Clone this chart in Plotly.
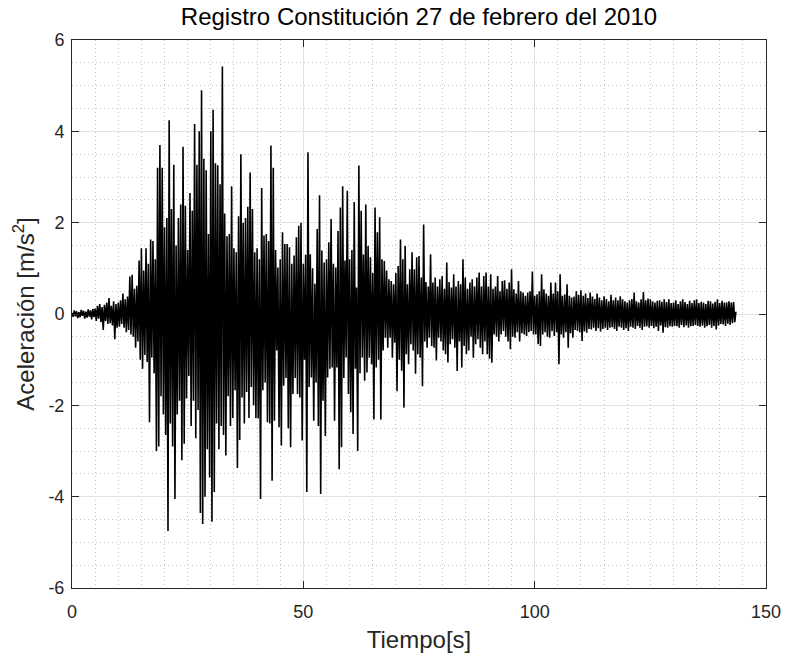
import plotly.graph_objects as go

dt = 0.25

# 0 - 15 s
acc_inicio = [
    0.02, -0.06, 0.08, -0.05, 0.06, -0.09, 0.04, -0.07, 0.09, -0.04, 0.07, -0.10, 0.05, -0.08, 0.10, -0.06, 0.08, -0.12, 0.11, -0.07,
    0.12, -0.15, 0.18, -0.10, 0.22, -0.18, 0.15, -0.35, 0.20, -0.16, 0.25, -0.22, 0.35, -0.20, 0.18, -0.25, 0.28, -0.55, 0.22, -0.30,
    0.25, -0.28, 0.30, -0.22, 0.45, -0.30, 0.32, -0.40, 0.38, -0.35, 0.82, -0.45, 0.86, -0.50, 0.55, -0.74, 0.62, -0.60, 1.17, -1.00,
]

# 15 - 65 s (fase intensa)
acc_fuerte = [
    1.44, -1.20, 0.95, -0.90, 1.44, -1.05, 1.10, -2.37, 1.63, -0.95, 1.60, -1.30, 1.20, -3.00, 3.20, -2.90, 3.70, -1.80, 3.20, -2.20,
    1.90, -2.65, 2.10, -4.75, 4.24, -2.40, 2.30, -2.90, 3.27, -4.05, 1.50, -2.20, 2.10, -1.90, 2.40, -3.20, 3.66, -2.84, 2.37, -1.85,
    1.40, -1.36, 2.65, -2.45, 2.26, -1.90, 4.16, -2.72, 3.27, -2.10, 4.00, -4.36, 4.90, -4.60, 3.40, -4.00, 3.15, -2.96, 1.75, -3.58,
    4.00, -4.55, 4.47, -3.90, 3.30, -2.40, 3.26, -2.96, 2.84, -2.45, 5.42, -2.65, 2.20, -3.10, 1.70, -1.80, 1.75, -2.45, 2.80, -2.28,
    1.44, -1.67, 1.35, -3.37, 2.14, -2.76, 3.50, -1.83, 2.00, -2.40, 2.10, -1.71, 2.35, -2.28, 3.10, -1.60, 2.30, -2.00, 1.35, -2.28,
    1.44, -2.29, 1.20, -4.05, 2.76, -1.67, 1.72, -1.50, 1.75, -2.37, 1.60, -2.40, 3.69, -3.65, 3.20, -2.34, 1.40, -0.80, 1.02, -2.48,
    1.20, -2.88, 1.79, -1.57, 1.53, -1.40, 1.53, -2.50, 1.46, -2.92, 1.10, -1.75, 1.28, -1.40, 1.68, -1.75, 1.93, -1.83, 2.00, -2.77,
    1.10, -1.00, 1.30, -3.90, 3.54, -1.60, 1.31, -1.39, 1.00, -2.34, 0.66, -1.50, 1.86, -2.45, 2.60, -3.94, 1.39, -1.90, 1.13, -2.67,
    1.20, -1.39, 1.57, -1.20, 2.08, -1.17, 1.10, -2.34, 1.02, -1.17, 1.82, -3.40, 2.33, -2.92, 2.80, -1.40, 1.17, -0.95, 2.70, -1.75,
    1.20, -2.15, 1.40, -2.63, 2.45, -1.20, 0.58, -3.00, 3.25, -1.30, 2.26, -0.95, 1.30, -1.46, 2.40, -1.28, 1.49, -0.96, 1.24, -1.10,
]

# 65 - 143.5 s (coda)
acc_coda = [
    0.90, -2.31, 2.33, -1.17, 1.79, -1.00, 2.12, -2.31, 1.20, -0.80, 1.16, -0.52, 0.95, -0.74, 0.76, -0.52, 0.72, -0.96, 0.65, -0.63,
    0.90, -1.69, 1.05, -1.00, 1.63, -1.24, 1.20, -2.05, 1.49, -0.88, 0.65, -1.10, 0.98, -0.66, 1.35, -0.80, 0.98, -1.31, 1.24, -0.88,
    1.27, -0.96, 0.80, -1.58, 1.96, -0.60, 0.70, -0.74, 0.60, -0.52, 1.31, -0.70, 0.69, -0.74, 0.80, -1.02, 0.60, -0.52, 0.76, -0.60,
    0.83, -0.80, 0.55, -0.88, 1.13, -1.06, 0.70, -0.66, 0.58, -0.55, 0.87, -0.74, 0.60, -1.25, 0.72, -0.60, 0.65, -1.17, 1.20, -0.70,
    0.80, -0.88, 0.55, -0.80, 0.69, -0.50, 0.76, -0.96, 0.60, -0.66, 0.80, -0.55, 0.91, -0.74, 0.60, -0.88, 0.83, -0.60, 0.91, -0.88,
    0.60, -0.98, 0.87, -1.07, 0.55, -0.45, 0.60, -0.50, 0.83, -0.60, 0.50, -0.45, 0.72, -0.37, 0.74, -0.50, 0.55, -0.60, 0.69, -0.77,
    0.98, -0.50, 0.54, -0.52, 0.45, -0.40, 0.72, -0.60, 0.50, -0.42, 0.47, -0.45, 0.40, -0.48, 0.47, -0.40, 0.50, -0.37, 0.93, -0.45,
    0.40, -0.45, 0.43, -0.66, 0.50, -0.70, 0.87, -0.45, 0.54, -0.40, 0.45, -0.50, 0.40, -0.52, 0.69, -0.38, 0.45, -0.48, 0.69, -0.40,
    0.50, -1.10, 0.87, -0.45, 0.40, -0.52, 0.43, -0.40, 0.65, -0.74, 0.40, -0.42, 0.36, -0.52, 0.38, -0.35, 0.50, -0.37, 0.42, -0.40,
    0.52, -0.59, 0.40, -0.38, 0.45, -0.41, 0.35, -0.33, 0.47, -0.34, 0.38, -0.30, 0.33, -0.37, 0.45, -0.31, 0.36, -0.38, 0.30, -0.33,
    0.39, -0.30, 0.33, -0.35, 0.28, -0.30, 0.42, -0.29, 0.30, -0.33, 0.36, -0.37, 0.30, -0.28, 0.39, -0.30, 0.32, -0.35, 0.28, -0.31,
    0.25, -0.37, 0.30, -0.28, 0.33, -0.30, 0.47, -0.33, 0.28, -0.26, 0.25, -0.30, 0.32, -0.35, 0.48, -0.28, 0.30, -0.27, 0.34, -0.30,
    0.32, -0.26, 0.28, -0.31, 0.25, -0.28, 0.29, -0.37, 0.30, -0.25, 0.27, -0.41, 0.32, -0.29, 0.26, -0.30, 0.32, -0.27, 0.24, -0.28,
    0.25, -0.26, 0.30, -0.27, 0.22, -0.30, 0.28, -0.24, 0.32, -0.29, 0.26, -0.25, 0.22, -0.30, 0.29, -0.27, 0.24, -0.26, 0.30, -0.24,
    0.32, -0.26, 0.24, -0.28, 0.27, -0.25, 0.25, -0.30, 0.22, -0.27, 0.29, -0.24, 0.28, -0.30, 0.23, -0.26, 0.27, -0.34, 0.32, -0.25,
    0.24, -0.22, 0.29, -0.23, 0.25, -0.26, 0.25, -0.21, 0.28, -0.24, 0.25, -0.20, 0.26, -0.18, 0.05,
]

aceleracion = acc_inicio + acc_fuerte + acc_coda
tiempo = [round(i * dt, 2) for i in range(len(aceleracion))]

x_ticks = [0, 50, 100, 150]
x_labels = ["0", "50", "100", "150"]
y_ticks = [-6, -4, -2, 0, 2, 4, 6]
y_labels = ["-6", "-4", "-2", "0", "2", "4", "6"]

FONT = "Liberation Sans, Arial, Helvetica, sans-serif"
AX = "#262626"

fig = go.Figure()
fig.add_trace(go.Scatter(x=tiempo, y=aceleracion, mode="lines",
                         line=dict(color="black", width=1.6), showlegend=False,
                         hoverinfo="skip"))

axis_common = dict(
    ticks="inside", ticklen=7, tickwidth=1, tickcolor=AX,
    showline=True, linecolor=AX, linewidth=1, mirror="ticks",
    showgrid=True, gridcolor="#e2e2e2", gridwidth=1,
    zeroline=False, automargin=False,
    tickfont=dict(family=FONT, size=18, color=AX),
)

minor_grid = dict(showgrid=True, gridcolor="#c4c4c4", griddash="1px,3px",
                  gridwidth=1, ticks="")

fig.update_layout(
    width=785, height=658,
    margin=dict(l=72, r=19, t=40, b=70),
    paper_bgcolor="white", plot_bgcolor="white",
    title=dict(text="Registro Constitución 27 de febrero del 2010",
               font=dict(family=FONT, size=24, color="black"),
               x=0.5, xref="paper", xanchor="center",
               y=1 - 17 / 658, yref="container", yanchor="middle"),
    xaxis=dict(range=[0, 150], tickvals=x_ticks, ticktext=x_labels,
               ticklabelstandoff=7,
               minor=dict(tick0=0, dtick=5, **minor_grid),
               title=dict(text="Tiempo[s]", font=dict(family=FONT, size=24, color=AX), standoff=10),
               **axis_common),
    yaxis=dict(range=[-6, 6], tickvals=y_ticks, ticktext=y_labels,
               ticklabelstandoff=3,
               minor=dict(tick0=0, dtick=0.5, **minor_grid),
               title=dict(text="Aceleración [m/s<sup>2</sup>]", font=dict(family=FONT, size=24, color=AX), standoff=6),
               **axis_common),
)

fig.write_html("out.html")
